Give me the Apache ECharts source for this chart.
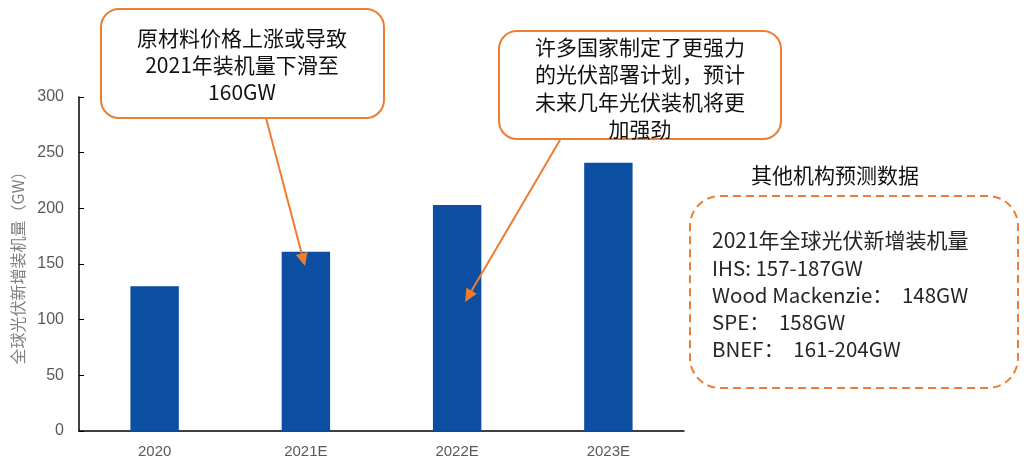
<!DOCTYPE html>
<html>
<head>
<meta charset="utf-8">
<script src="https://cdn.jsdelivr.net/npm/echarts@6/dist/echarts.min.js"></script>
<style>
  html, body { margin: 0; padding: 0; background: #fff; }
  #main { width: 1024px; height: 465px; }
</style>
</head>
<body>
<div id="main"></div>
<script>
// 数据
var categories = ["2020", "2021E", "2022E", "2023E"];
var installValues = [130, 161, 203, 241];
var yTicks = [0, 50, 100, 150, 200, 250, 300];

var note1Lines = ["原材料价格上涨或导致", "2021年装机量下滑至", "160GW"];
var note2Lines = ["许多国家制定了更强力", "的光伏部署计划，预计", "未来几年光伏装机将更", "加强劲"];
var otherTitle = "其他机构预测数据";
var otherLines = ["IHS: 157-187GW", "Wood Mackenzie：  148GW", "SPE：  158GW", "BNEF：  161-204GW"];

var ORANGE = "#ED7D31";
var cjk = "'Noto Sans CJK SC', sans-serif";

function arrow(x1, y1, x2, y2) {
  var ang = Math.atan2(y2 - y1, x2 - x1);
  var len = 13, half = 6;
  var bx = x2 - len * Math.cos(ang), by = y2 - len * Math.sin(ang);
  var px = -Math.sin(ang) * half, py = Math.cos(ang) * half;
  return [
    { type: "line", shape: { x1: x1, y1: y1, x2: bx, y2: by }, style: { stroke: ORANGE, lineWidth: 2 }, z: 10 },
    { type: "polygon", shape: { points: [[x2, y2], [bx + px, by + py], [bx - px, by - py]] }, style: { fill: ORANGE }, z: 10 }
  ];
}

var chart = echarts.init(document.getElementById("main"));

var graphics = [];
// 左侧注释框
graphics.push({
  type: "rect", shape: { x: 101, y: 9, width: 283, height: 109, r: 18 },
  style: { fill: "#fff", stroke: ORANGE, lineWidth: 2 }, z: 5
});
graphics.push({
  type: "text", x: 242, y: 65, z: 6,
  style: { text: note1Lines.join("\n"), font: "21px " + cjk, lineHeight: 27, fill: "#111", align: "center", verticalAlign: "middle" }
});
// 右侧注释框
graphics.push({
  type: "rect", shape: { x: 499, y: 31, width: 282, height: 108, r: 18 },
  style: { fill: "#fff", stroke: ORANGE, lineWidth: 2 }, z: 5
});
graphics.push({
  type: "text", x: 640, y: 88, z: 6,
  style: { text: note2Lines.join("\n"), font: "21px " + cjk, lineHeight: 27.5, fill: "#111", align: "center", verticalAlign: "middle" }
});
graphics = graphics.concat(arrow(266, 118, 305, 266));
graphics = graphics.concat(arrow(560, 140, 465, 302));

// 其他机构预测
graphics.push({
  type: "text", x: 835, y: 175, z: 6,
  style: { text: otherTitle, font: "21px " + cjk, fill: "#111", align: "center", verticalAlign: "middle" }
});
graphics.push({
  type: "rect", shape: { x: 690, y: 196, width: 328, height: 192, r: 30 },
  style: { fill: "none", stroke: ORANGE, lineWidth: 2, lineDash: [8, 5] }, z: 5
});
graphics.push({
  type: "text", x: 712, y: 240, z: 6,
  style: { text: "2021年全球光伏新增装机量", font: "21px " + cjk, fill: "#262626", verticalAlign: "middle" }
});
graphics.push({
  type: "text", x: 712, y: 255, z: 6,
  style: { text: otherLines.join("\n"), font: "20.5px " + cjk, lineHeight: 27, fill: "#262626", verticalAlign: "top" }
});

var option = {
  animation: false,
  grid: { left: 79, right: 340, top: 97, bottom: 34, outerBoundsMode: "none", containLabel: false },
  xAxis: {
    type: "category",
    data: categories,
    axisLine: { lineStyle: { color: "#000", width: 1.5 } },
    axisTick: { inside: true, length: 6, lineStyle: { color: "#000" } },
    axisLabel: { color: "#595959", fontSize: 15, fontFamily: "Liberation Sans, Arial", margin: 13 }
  },
  yAxis: {
    type: "value",
    min: yTicks[0],
    max: yTicks[yTicks.length - 1],
    interval: 50,
    name: "全球光伏新增装机量（GW）",
    nameLocation: "middle",
    nameGap: 53,
    nameTextStyle: { color: "#7f7f7f", fontSize: 16, fontFamily: cjk },
    axisLine: { show: true, lineStyle: { color: "#000", width: 1.5 } },
    axisTick: { show: true, inside: true, length: 5, lineStyle: { color: "#000" } },
    axisLabel: { color: "#595959", fontSize: 16, fontFamily: "Liberation Sans, Arial", margin: 15 },
    splitLine: { show: false }
  },
  series: [{
    type: "bar",
    data: installValues,
    barWidth: "32%",
    itemStyle: { color: "#0B4EA2" }
  }],
  graphic: graphics
};
chart.setOption(option);
</script>
</body>
</html>
